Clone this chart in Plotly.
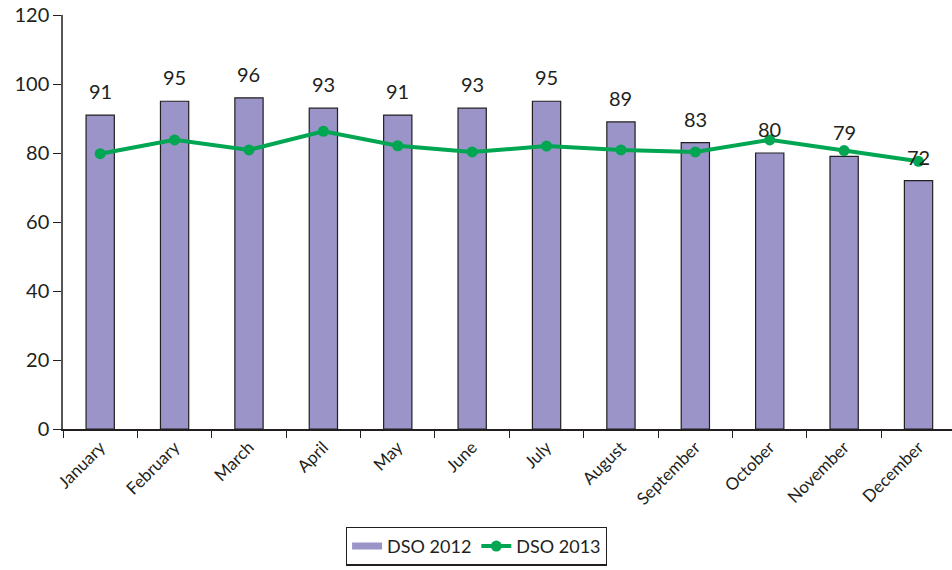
import plotly.graph_objects as go

months = ['January', 'February', 'March', 'April', 'May', 'June',
          'July', 'August', 'September', 'October', 'November', 'December']
dso_2012 = [91, 95, 96, 93, 91, 93, 95, 89, 83, 80, 79, 72]
dso_2013 = [79.8, 83.8, 80.9, 86.3, 82.1, 80.3, 82.0, 80.9, 80.3, 83.8, 80.7, 77.6]

FONT = "Lato, 'DejaVu Sans', sans-serif"
TEXT = '#231f20'
PURPLE = '#9b94c8'
GREEN = '#00a651'

fig = go.Figure()
fig.add_trace(go.Bar(
    x=months, y=dso_2012, name='DSO 2012', showlegend=False,
    marker=dict(color=PURPLE, line=dict(color=TEXT, width=1.2)),
    width=0.38,
))
# legend entry drawn as a thick line swatch, like the original
fig.add_trace(go.Scatter(
    x=[None], y=[None], name='DSO 2012', mode='lines',
    line=dict(color=PURPLE, width=7),
))
fig.add_trace(go.Scatter(
    x=months, y=dso_2013, name='DSO 2013', mode='lines+markers',
    line=dict(color=GREEN, width=4),
    marker=dict(color=GREEN, size=11),
))

# value labels above the 2012 bars
for m, v in zip(months, dso_2012):
    fig.add_annotation(x=m, y=v, text=str(v), showarrow=False,
                       yanchor='bottom', yshift=10,
                       font=dict(size=20, color=TEXT, family=FONT))

fig.update_layout(
    width=952, height=570,
    margin=dict(l=63, r=0, t=15, b=141),
    plot_bgcolor='white', paper_bgcolor='white',
    font=dict(family=FONT, color=TEXT, size=18),
    showlegend=True,
    legend=dict(orientation='h', x=0.465, xanchor='center', y=-0.33, yanchor='bottom',
                bordercolor=TEXT, borderwidth=1.2,
                font=dict(size=18, color=TEXT),
                traceorder='normal'),
)
fig.update_xaxes(
    showline=True, linecolor=TEXT, linewidth=1.5,
    ticks='outside', tickson='boundaries', ticklen=7, tickcolor=TEXT,
    tickangle=-45, tickfont=dict(size=17, color=TEXT),
    range=[-0.5, 11.45], showgrid=False, automargin=False,
)
fig.update_yaxes(
    range=[0, 120], dtick=20, showline=True, linecolor='#555555', linewidth=1.5,
    ticks='outside', ticklen=8, tickcolor=TEXT, showgrid=False, zeroline=False,
    tickfont=dict(size=20, color=TEXT), automargin=False,
    ticklabeloverflow='allow',
)

# drop the default 8px page margin so the figure fills the window
fig.write_html("out.html", config={'displayModeBar': False},
               post_script="document.body.style.margin='0';")
